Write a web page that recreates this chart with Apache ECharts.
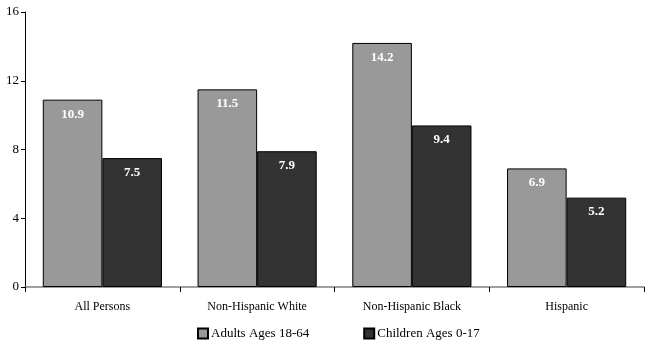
<!DOCTYPE html>
<html><head><meta charset="utf-8">
<script src="https://cdn.jsdelivr.net/npm/echarts@6/dist/echarts.min.js"></script>
<style>html,body{margin:0;padding:0;background:#fff}#c{width:666px;height:356px}</style>
</head><body><div id="c"></div>
<script>
const categories = ["All Persons", "Non-Hispanic White", "Non-Hispanic Black", "Hispanic"];
const adults = [10.9, 11.5, 14.2, 6.9];
const children = [7.5, 7.9, 9.4, 5.2];
const seriesNames = ["Adults Ages 18-64", "Children Ages 0-17"];

const font = "'Liberation Serif', 'Times New Roman', serif";
const chart = echarts.init(document.getElementById('c'), null, {renderer: 'canvas'});
const lbl = {show: true, position: 'insideTop', distance: 8, color: '#fff', fontWeight: 'bold', fontFamily: font, fontSize: 13, formatter: p => p.value.toFixed(1)};
chart.setOption({
  animation: false,
  grid: {left: 25, right: 22, top: 12, bottom: 69, containLabel: false},
  legend: {
    top: 327, left: 197, itemGap: 54, itemWidth: 10, itemHeight: 10, padding: 0,
    textStyle: {fontFamily: font, fontSize: 13, color: '#000', padding: [0, 0, 0, -2]},
    data: seriesNames.map(n => ({name: n, icon: 'rect'}))
  },
  xAxis: {
    type: 'category', data: categories,
    axisLine: {lineStyle: {color: '#808080', width: 1.5}},
    axisTick: {show: true, length: 5, lineStyle: {color: '#000'}},
    axisLabel: {fontFamily: font, fontSize: 12, color: '#000', margin: 14}
  },
  yAxis: {
    type: 'value', min: 0, max: 16, interval: 4,
    axisLine: {show: true, lineStyle: {color: '#000'}},
    axisTick: {show: true, length: 4, lineStyle: {color: '#000'}},
    splitLine: {show: false},
    axisLabel: {fontFamily: font, fontSize: 13, color: '#000', margin: 6}
  },
  series: [
    {name: seriesNames[0], type: 'bar', data: adults, barGap: '0%', barCategoryGap: '23%',
     itemStyle: {color: '#999999', borderColor: '#000', borderWidth: 1}, label: lbl},
    {name: seriesNames[1], type: 'bar', data: children,
     itemStyle: {color: '#333333', borderColor: '#000', borderWidth: 1}, label: lbl}
  ]
});
</script></body></html>
